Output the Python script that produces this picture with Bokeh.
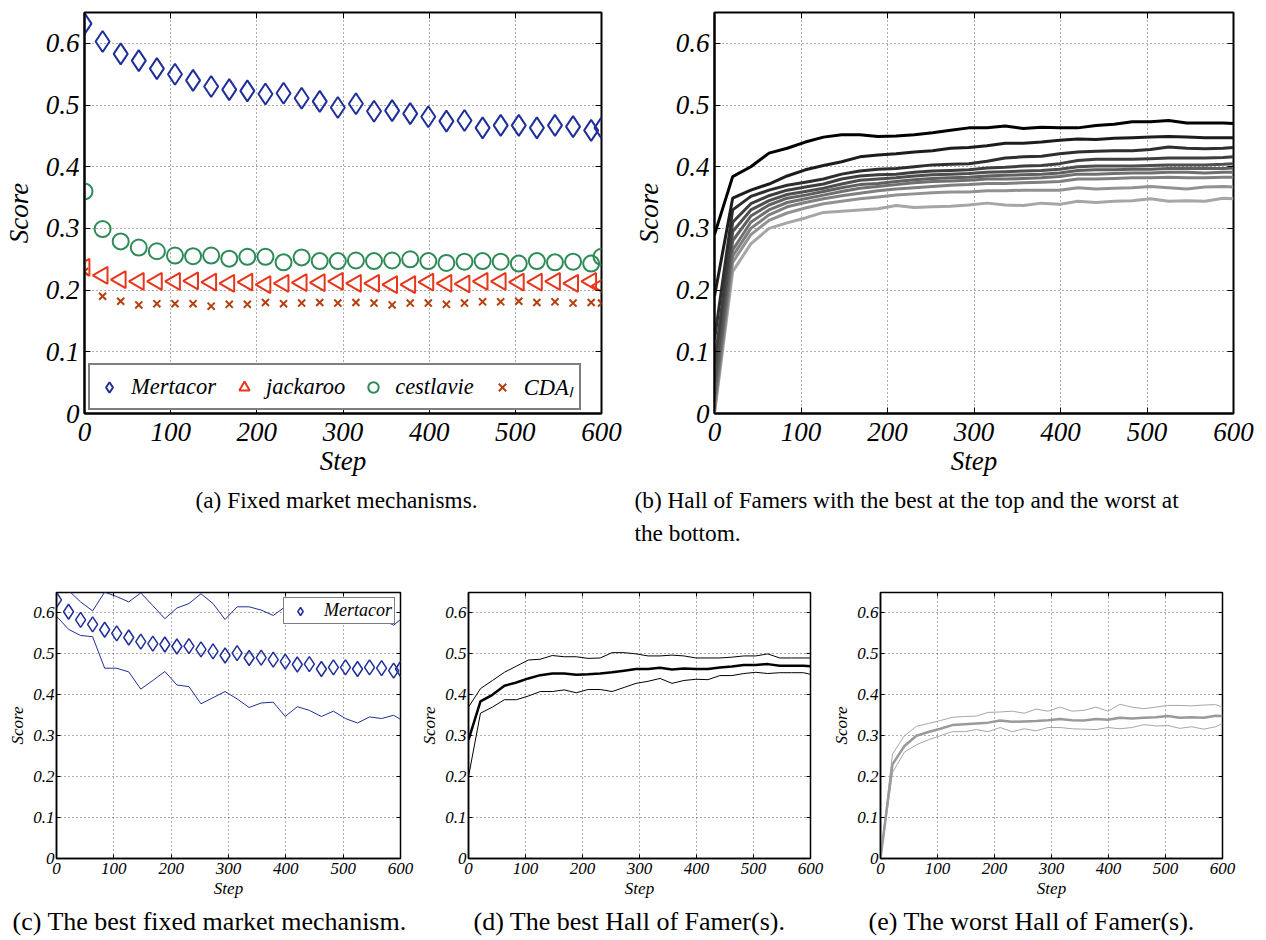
from bokeh.plotting import figure
from bokeh.layouts import column, row
from bokeh.models import FixedTicker, Legend, LegendItem, LinearAxis, Title, Range1d
from bokeh.embed import file_html
from bokeh.resources import INLINE

# ---------------- data ----------------
steps = [0, 21, 42, 63, 84, 105, 126, 147, 168, 189, 210, 231, 252, 273, 294,
         315, 336, 357, 378, 399, 420, 441, 462, 483, 504, 525, 546, 567, 588, 600]

x_ticks = [0, 100, 200, 300, 400, 500, 600]
x_tick_labels = ["0", "100", "200", "300", "400", "500", "600"]
y_ticks = [0.0, 0.1, 0.2, 0.3, 0.4, 0.5, 0.6]
y_tick_labels = ["0", "0.1", "0.2", "0.3", "0.4", "0.5", "0.6"]

mertacor = [0.632, 0.603, 0.583, 0.572, 0.559, 0.550, 0.540, 0.530, 0.525, 0.523,
            0.518, 0.519, 0.511, 0.506, 0.496, 0.502, 0.490, 0.491, 0.486, 0.481,
            0.474, 0.475, 0.463, 0.467, 0.467, 0.463, 0.467, 0.465, 0.459, 0.463]
jackaroo = [0.237, 0.224, 0.217, 0.214, 0.214, 0.214, 0.215, 0.213, 0.211, 0.213,
            0.209, 0.211, 0.212, 0.212, 0.214, 0.211, 0.211, 0.209, 0.209, 0.213,
            0.211, 0.210, 0.214, 0.214, 0.213, 0.213, 0.214, 0.211, 0.214, 0.207]
cestlavie = [0.360, 0.299, 0.279, 0.269, 0.263, 0.256, 0.255, 0.256, 0.251, 0.254,
             0.254, 0.245, 0.253, 0.247, 0.247, 0.248, 0.247, 0.248, 0.250, 0.247,
             0.244, 0.246, 0.247, 0.246, 0.243, 0.247, 0.245, 0.246, 0.243, 0.254]
cda_l = [0.230, 0.190, 0.182, 0.176, 0.178, 0.178, 0.178, 0.174, 0.177, 0.177,
         0.180, 0.178, 0.179, 0.180, 0.179, 0.180, 0.179, 0.176, 0.179, 0.179,
         0.177, 0.179, 0.181, 0.181, 0.182, 0.180, 0.181, 0.179, 0.180, 0.179]

mertacor_upper = [0.655, 0.655, 0.627, 0.605, 0.651, 0.640, 0.627, 0.649, 0.618, 0.586,
                  0.612, 0.623, 0.647, 0.623, 0.584, 0.615, 0.615, 0.607, 0.594, 0.615,
                  0.610, 0.600, 0.585, 0.578, 0.590, 0.595, 0.590, 0.585, 0.570, 0.584]
mertacor_lower = [0.592, 0.560, 0.545, 0.542, 0.465, 0.465, 0.456, 0.414, 0.435, 0.457,
                  0.424, 0.420, 0.378, 0.393, 0.408, 0.390, 0.369, 0.380, 0.382, 0.347,
                  0.371, 0.362, 0.347, 0.360, 0.342, 0.331, 0.346, 0.342, 0.350, 0.340]

hof_1 = [0.290, 0.384, 0.400, 0.422, 0.430, 0.440, 0.448, 0.452, 0.452, 0.449,
         0.450, 0.452, 0.455, 0.459, 0.463, 0.463, 0.466, 0.462, 0.464, 0.463,
         0.463, 0.467, 0.469, 0.473, 0.473, 0.475, 0.471, 0.471, 0.471, 0.470]
hof_2 = [0.190, 0.349, 0.362, 0.372, 0.385, 0.395, 0.402, 0.408, 0.416, 0.419,
         0.421, 0.424, 0.426, 0.430, 0.431, 0.434, 0.438, 0.438, 0.440, 0.443,
         0.445, 0.444, 0.446, 0.447, 0.448, 0.449, 0.448, 0.447, 0.447, 0.447]
hof_3 = [0.120, 0.330, 0.352, 0.362, 0.370, 0.375, 0.380, 0.388, 0.393, 0.396,
         0.397, 0.400, 0.403, 0.404, 0.405, 0.409, 0.414, 0.416, 0.417, 0.421,
         0.424, 0.425, 0.426, 0.426, 0.428, 0.432, 0.430, 0.429, 0.430, 0.431]
hof_4 = [0.080, 0.310, 0.340, 0.353, 0.362, 0.367, 0.372, 0.380, 0.385, 0.387,
         0.388, 0.391, 0.393, 0.394, 0.395, 0.398, 0.399, 0.401, 0.402, 0.405,
         0.410, 0.412, 0.412, 0.412, 0.413, 0.414, 0.414, 0.414, 0.415, 0.416]
hof_5 = [0.050, 0.295, 0.330, 0.345, 0.355, 0.360, 0.365, 0.372, 0.378, 0.380,
         0.382, 0.385, 0.387, 0.388, 0.389, 0.391, 0.392, 0.393, 0.394, 0.396,
         0.400, 0.401, 0.401, 0.401, 0.402, 0.403, 0.403, 0.403, 0.404, 0.405]
hof_6 = [0.030, 0.280, 0.320, 0.338, 0.349, 0.354, 0.360, 0.366, 0.371, 0.373,
         0.376, 0.379, 0.381, 0.382, 0.383, 0.385, 0.386, 0.387, 0.388, 0.390,
         0.394, 0.395, 0.395, 0.396, 0.396, 0.397, 0.397, 0.397, 0.397, 0.398]
hof_7 = [0.020, 0.265, 0.310, 0.330, 0.342, 0.348, 0.354, 0.360, 0.365, 0.368,
         0.371, 0.374, 0.376, 0.377, 0.378, 0.380, 0.380, 0.381, 0.382, 0.384,
         0.388, 0.388, 0.389, 0.390, 0.390, 0.391, 0.391, 0.390, 0.391, 0.391]
hof_8 = [0.010, 0.255, 0.300, 0.322, 0.335, 0.342, 0.348, 0.353, 0.357, 0.361,
         0.364, 0.366, 0.368, 0.370, 0.371, 0.373, 0.373, 0.374, 0.375, 0.376,
         0.380, 0.380, 0.381, 0.382, 0.382, 0.383, 0.382, 0.382, 0.383, 0.383]
hof_9 = [0.005, 0.245, 0.290, 0.313, 0.325, 0.333, 0.340, 0.344, 0.348, 0.351,
         0.354, 0.356, 0.358, 0.359, 0.359, 0.361, 0.361, 0.362, 0.362, 0.362,
         0.366, 0.364, 0.365, 0.366, 0.368, 0.366, 0.364, 0.367, 0.368, 0.367]
hof_10 = [0.000, 0.230, 0.275, 0.300, 0.309, 0.317, 0.326, 0.328, 0.330, 0.332,
          0.337, 0.334, 0.335, 0.336, 0.338, 0.341, 0.338, 0.337, 0.341, 0.339,
          0.344, 0.342, 0.344, 0.345, 0.348, 0.344, 0.345, 0.344, 0.349, 0.348]
hof_series = [hof_1, hof_2, hof_3, hof_4, hof_5, hof_6, hof_7, hof_8, hof_9, hof_10]
hof_colors = ["#000000", "#1c1c1c", "#2e2e2e", "#3e3e3e", "#4f4f4f",
              "#606060", "#707070", "#808080", "#929292", "#a6a6a6"]

best_upper = [0.370, 0.415, 0.435, 0.455, 0.470, 0.485, 0.487, 0.496, 0.493, 0.493,
              0.489, 0.490, 0.503, 0.503, 0.500, 0.495, 0.495, 0.497, 0.495, 0.490,
              0.490, 0.490, 0.492, 0.495, 0.495, 0.500, 0.490, 0.490, 0.490, 0.490]
best_lower = [0.200, 0.355, 0.370, 0.388, 0.388, 0.397, 0.408, 0.408, 0.412, 0.405,
              0.413, 0.413, 0.408, 0.418, 0.428, 0.433, 0.440, 0.428, 0.435, 0.438,
              0.437, 0.447, 0.447, 0.452, 0.455, 0.452, 0.454, 0.454, 0.454, 0.450]
worst_upper = [0.000, 0.255, 0.300, 0.323, 0.330, 0.337, 0.345, 0.347, 0.348, 0.357,
               0.358, 0.360, 0.355, 0.365, 0.360, 0.370, 0.360, 0.362, 0.370, 0.360,
               0.377, 0.370, 0.366, 0.370, 0.374, 0.374, 0.373, 0.375, 0.376, 0.370]
worst_lower = [0.000, 0.210, 0.260, 0.278, 0.290, 0.300, 0.310, 0.310, 0.315, 0.310,
               0.320, 0.310, 0.317, 0.312, 0.320, 0.320, 0.317, 0.316, 0.315, 0.320,
               0.317, 0.320, 0.327, 0.324, 0.325, 0.318, 0.322, 0.316, 0.322, 0.330]

captions = ["(a) Fixed market mechanisms.",
            "(b) Hall of Famers with the best at the top and the worst at\nthe bottom.",
            "(c) The best fixed market mechanism.",
            "(d) The best Hall of Famer(s).",
            "(e) The worst Hall of Famer(s)."]

SERIF = "Liberation Serif"
BLUE = "#1f2f9a"
RED = "#e8361a"
GREEN = "#2e8b57"
BROWN = "#b5400f"


def make_fig(width, height, bl, br, bt, bb, tick_fs, label_fs, big):
    p = figure(width=width, height=height, x_range=Range1d(0, 600), y_range=Range1d(0, 0.65),
               output_backend="svg", toolbar_location=None,
               min_border_left=bl, min_border_right=br, min_border_top=bt, min_border_bottom=bb,
               background_fill_color="white", border_fill_color="white",
               outline_line_color="black", outline_line_width=2 if big else 1.5)
    xo = dict(zip(x_ticks, x_tick_labels))
    yo = dict(zip(y_ticks, y_tick_labels))
    for ax in p.xaxis:
        ax.ticker = FixedTicker(ticks=x_ticks)
        ax.major_label_overrides = xo
        ax.axis_label = "Step"
    for ax in p.yaxis:
        ax.ticker = FixedTicker(ticks=y_ticks)
        ax.major_label_overrides = yo
        ax.axis_label = "Score"
    for ax in list(p.xaxis) + list(p.yaxis):
        ax.major_label_text_font = SERIF
        ax.major_label_text_font_style = "italic"
        ax.major_label_text_font_size = tick_fs
        ax.major_label_text_color = "black"
        ax.axis_label_text_font = SERIF
        ax.axis_label_text_font_style = "italic"
        ax.axis_label_text_font_size = label_fs
        ax.axis_label_text_color = "black"
        ax.major_tick_in = 6 if big else 4
        ax.major_tick_out = 0
        ax.major_tick_line_color = "black"
        ax.minor_tick_line_color = None
        ax.axis_line_color = "black"
        ax.axis_line_width = 2 if big else 1.5
    p.yaxis.major_label_standoff = 5 if big else 2
    p.xaxis.major_label_standoff = 9 if big else 4
    p.yaxis.axis_label_standoff = 9 if big else 3
    p.xaxis.axis_label_standoff = 2 if big else 2
    # ticks on top and right like the original
    top = LinearAxis(ticker=FixedTicker(ticks=x_ticks),
                     major_label_overrides={t: "" for t in x_ticks},
                     major_tick_in=6 if big else 4, major_tick_out=0, minor_tick_line_color=None,
                     axis_line_color=None, major_label_standoff=0)
    right = LinearAxis(ticker=FixedTicker(ticks=y_ticks),
                       major_label_overrides={t: "" for t in y_ticks},
                       major_tick_in=6 if big else 4, major_tick_out=0, minor_tick_line_color=None,
                       axis_line_color=None, major_label_standoff=0)
    p.add_layout(top, "above")
    p.add_layout(right, "right")
    p.xgrid.ticker = FixedTicker(ticks=x_ticks)
    p.ygrid.ticker = FixedTicker(ticks=y_ticks)
    for g in (p.xgrid, p.ygrid):
        g.grid_line_color = "#333333"
        g.grid_line_alpha = 0.8
        g.grid_line_dash = "1 3"
        g.grid_line_width = 1
    return p


def add_caption(p, text, size, offset, standoff, lh=1.2):
    t = Title(text=text, align="left", offset=offset, standoff=standoff,
              vertical_align="bottom",
              text_font=SERIF, text_font_style="normal", text_font_size=size,
              text_color="black", text_line_height=lh)
    p.add_layout(t, "below")


# ---------------- (a) ----------------
pa = make_fig(630, 560, 82, 29, 12, 147, "27px", "27px", True)
ra = pa.scatter(steps, mertacor, marker="diamond", size=21, fill_color=None,
                line_color=BLUE, line_width=2)
rb = pa.scatter(steps, jackaroo, marker="triangle", angle=1.5708, size=17, fill_color=None,
                line_color=RED, line_width=2)
rc = pa.scatter(steps, cestlavie, marker="circle", size=16, fill_color=None,
                line_color=GREEN, line_width=2)
rd = pa.scatter(steps, cda_l, marker="x", size=10, line_color=BROWN, line_width=2)
leg_a = Legend(items=[LegendItem(label="Mertacor", renderers=[ra]),
                      LegendItem(label="jackaroo", renderers=[rb]),
                      LegendItem(label="cestlavie", renderers=[rc]),
                      LegendItem(label="CDA\u2097", renderers=[rd])],
               orientation="horizontal", location=(4, 3),
               label_text_font=SERIF, label_text_font_style="italic",
               label_text_font_size="22.5px", label_text_color="black",
               glyph_width=26, glyph_height=26, label_standoff=9, spacing=15,
               padding=6, margin=0, border_line_color="black", border_line_width=2,
               background_fill_color="white", background_fill_alpha=1)
pa.add_layout(leg_a)
add_caption(pa, captions[0], "23.3px", 111, 13)

# ---------------- (b) ----------------
pb = make_fig(636, 560, 83, 33, 12, 147, "27px", "27px", True)
for ys, col in reversed(list(zip(hof_series, hof_colors))):
    pb.line(steps, ys, line_color=col, line_width=3)
add_caption(pb, captions[1], "23.3px", -80, 13, 1.26)

# ---------------- (c) ----------------
pc = make_fig(416, 380, 56, 16, 32, 80, "17px", "17px", False)
pc.line(steps, mertacor_upper, line_color=BLUE, line_width=1)
pc.line(steps, mertacor_lower, line_color=BLUE, line_width=1)
rcm = pc.scatter(steps, mertacor, marker="diamond", size=15, fill_color=None,
                 line_color=BLUE, line_width=1.5)
leg_c = Legend(items=[LegendItem(label="Mertacor", renderers=[rcm])],
               location="top_right", label_text_font=SERIF, label_text_font_style="italic",
               label_text_font_size="18px", label_text_color="black",
               glyph_width=28, glyph_height=20, label_height=18, label_standoff=10,
               padding=2, margin=5,
               border_line_color="black", border_line_width=1.5,
               background_fill_color="white", background_fill_alpha=1)
pc.add_layout(leg_c)
add_caption(pc, captions[2], "26px", -44, 9)

# ---------------- (d) ----------------
pd_ = make_fig(412, 380, 52, 18, 32, 80, "17px", "17px", False)
pd_.line(steps, best_upper, line_color="black", line_width=1)
pd_.line(steps, best_lower, line_color="black", line_width=1)
pd_.line(steps, hof_1, line_color="black", line_width=2.5)
add_caption(pd_, captions[3], "26px", 5, 9)

# ---------------- (e) ----------------
pe = make_fig(438, 380, 52, 44, 32, 80, "17px", "17px", False)
pe.line(steps, worst_upper, line_color="#a6a6a6", line_width=1)
pe.line(steps, worst_lower, line_color="#a6a6a6", line_width=1)
pe.line(steps, hof_10, line_color="#9a9a9a", line_width=2.5)
add_caption(pe, captions[4], "26px", -12, 9)

layout = column(row(pa, pb, spacing=0), row(pc, pd_, pe, spacing=0), spacing=0)
open("out.html", "w").write(file_html(layout, INLINE))
